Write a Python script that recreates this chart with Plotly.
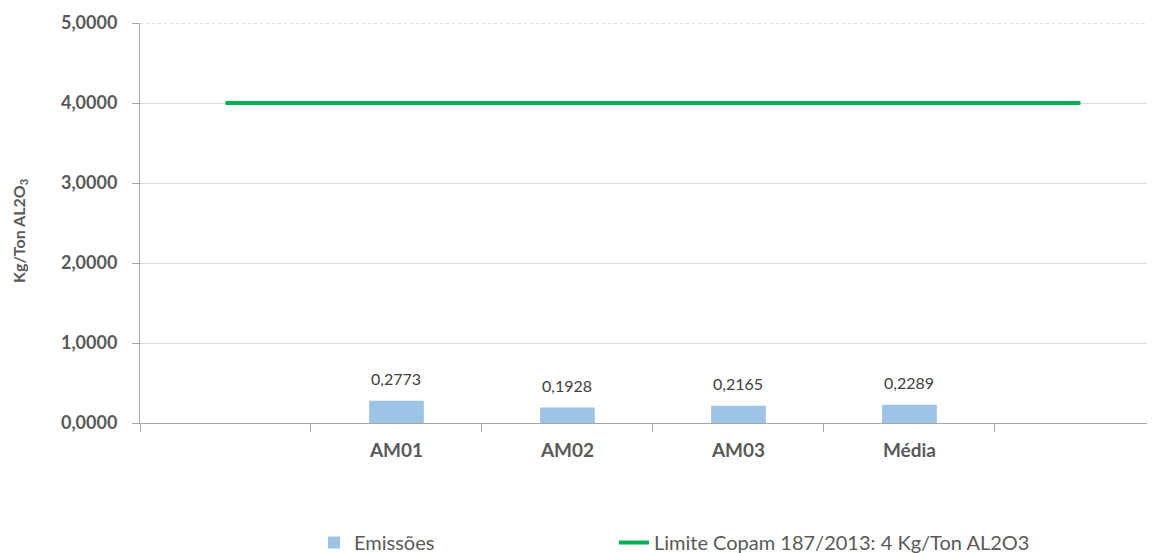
import plotly.graph_objects as go

categories = ["", "AM01", "AM02", "AM03", "Média", " "]
bar_categories = ["AM01", "AM02", "AM03", "Média"]
emissoes = [0.2773, 0.1928, 0.2165, 0.2289]
limite = [4, 4, 4, 4, 4, 4]
y_ticks = [0, 1, 2, 3, 4, 5]

font_family = "Lato, Open Sans, sans-serif"
gray_text = "#595959"

fig = go.Figure()
fig.add_trace(go.Bar(
    x=bar_categories, y=emissoes, name="Emissões",
    marker=dict(color="#9DC3E6", line=dict(width=0)),
    width=0.32, legend="legend", showlegend=True,
))
fig.add_trace(go.Scatter(
    x=categories, y=limite, name="Limite Copam 187/2013: 4 Kg/Ton AL2O3",
    mode="lines", line=dict(color="#00B050", width=4), legend="legend2",
    showlegend=True,
))

for c, v in zip(bar_categories, emissoes):
    fig.add_annotation(
        x=c, y=v, text=f"{v:.4f}".replace(".", ","), showarrow=False,
        yanchor="bottom", yshift=11,
        font=dict(family=font_family, size=16, color="#404040"),
    )

fig.add_annotation(
    xref="paper", yref="paper", x=0, y=0.5, xanchor="center", yanchor="middle",
    xshift=-121, yshift=-8, textangle=-90, showarrow=False,
    text="Kg/Ton AL2O<sub>3</sub>",
    font=dict(family=font_family, size=16, color=gray_text, weight="bold"),
)

legend_font = dict(family=font_family, size=20, color=gray_text)
fig.update_layout(
    width=1147, height=545,
    margin=dict(l=132, r=0, t=15, b=130),
    plot_bgcolor="white", paper_bgcolor="white",
    separators=",.",
    showlegend=True,
    font=dict(family=font_family, color=gray_text),
    legend=dict(
        orientation="h", xref="container", yref="container",
        x=0.2668, y=0.055, xanchor="left", yanchor="top",
        font=legend_font, bgcolor="rgba(0,0,0,0)", visible=True,
    ),
    legend2=dict(
        orientation="h", xref="container", yref="container",
        x=0.5283, y=0.055, xanchor="left", yanchor="top",
        font=legend_font, bgcolor="rgba(0,0,0,0)", visible=True,
    ),
    xaxis=dict(
        type="category", categoryorder="array", categoryarray=categories,
        range=[-0.5, 5.436], automargin=False,
        showgrid=False, showline=True, linecolor="#A6A6A6", linewidth=1,
        ticks="outside", tickson="boundaries", ticklen=8, tickcolor="#A6A6A6",
        tickfont=dict(family=font_family, size=19, color=gray_text, weight="bold"),
        ticklabelstandoff=10,
        zeroline=False,
    ),
    yaxis=dict(
        range=[0, 5], tickvals=y_ticks, tickformat=".4f", automargin=False,
        showgrid=True, gridcolor="#D9D9D9", gridwidth=1,
        showline=True, linecolor="#A6A6A6", linewidth=1,
        ticks="outside", ticklen=7, tickcolor="#A6A6A6",
        tickfont=dict(family=font_family, size=18, color=gray_text, weight="bold"),
        ticklabelstandoff=11,
        zeroline=False,
    ),
)
fig.add_shape(type="line", xref="paper", yref="y", x0=0, x1=1, y0=5, y1=5,
              line=dict(color="#BFBFBF", width=1, dash="dot"))

fig.write_html("out.html")
